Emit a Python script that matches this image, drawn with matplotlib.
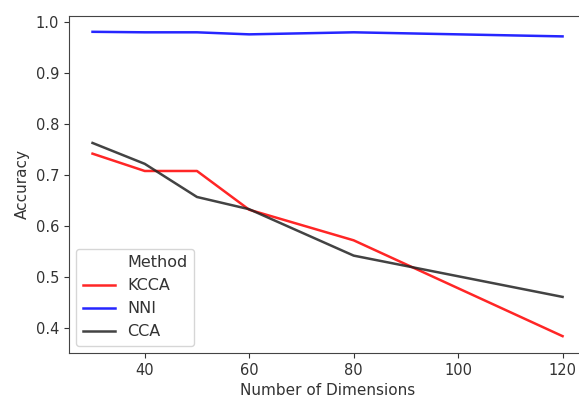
import matplotlib
matplotlib.use('Agg')
import matplotlib.pyplot as plt
from matplotlib.lines import Line2D

# accuracy per embedding size for each method
dims = [30, 40, 50, 60, 80, 120]
kcca = [0.742, 0.708, 0.708, 0.632, 0.572, 0.384]
nni = [0.981, 0.980, 0.980, 0.976, 0.980, 0.972]
cca = [0.763, 0.722, 0.657, 0.633, 0.542, 0.461]

methods = ['KCCA', 'NNI', 'CCA']
colours = ['red', 'blue', '#222222']

fig = plt.figure(figsize=(5.79, 3.98), dpi=100)
ax = fig.add_axes([0.1192, 0.1131, 0.893, 0.8467])

for name, vals, c in zip(methods, [kcca, nni, cca], colours):
    ax.plot(dims, vals, '-', c=c, lw=1.8, alpha=0.85, label=name)

ax.set_xlim(25.5, 124.5)
ax.set_ylim(0.351, 1.012)
ax.set_xticks([40, 60, 80, 100, 120])
ax.set_yticks([0.4, 0.5, 0.6, 0.7, 0.8, 0.9, 1.0])
ax.set_xlabel('Number of Dimensions', color='#333333', fontsize=11)
ax.set_ylabel('Accuracy', color='#333333', fontsize=11)
ax.tick_params(colors='#333333', labelcolor='#333333', labelsize=10.5)
for s in ax.spines.values():
    s.set_color('#444444')

# legend with the hue name as a blank first entry
handles, labels = ax.get_legend_handles_labels()
blank = Line2D([], [], color='none')
ax.legend([blank] + handles, ['Method'] + labels, loc='lower left',
          labelcolor='#333333', fontsize=11.5, borderaxespad=0.45)

fig.savefig('out.png', dpi=100)
